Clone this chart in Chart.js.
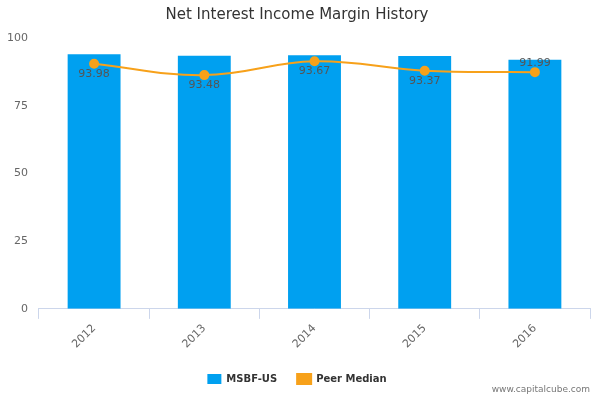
<!DOCTYPE html>
<html>
<head>
<script src="https://cdn.jsdelivr.net/npm/chart.js@4"></script>
<style>
body { margin: 0; background: #fff; }
#wrap { width: 600px; height: 400px; position: relative; }
#credit { position: absolute; right: 10px; bottom: 6px; font: 9px "DejaVu Sans"; color: #777; }
</style>
</head>
<body>
<div id="wrap"><canvas id="myChart" width="600" height="400"></canvas><div id="credit">www.capitalcube.com</div></div>
<script>
const years = ['2012', '2013', '2014', '2015', '2016'];
const companyValues = [93.98, 93.48, 93.67, 93.37, 91.99];
const peerMedian = [90.5, 86.3, 91.4, 87.9, 87.4];
const yTicks = [0, 25, 50, 75, 100];

// value labels on the bars
const barLabels = {
    id: 'barLabels',
    afterDatasetsDraw(chart) {
        const ctx = chart.ctx;
        const meta = chart.getDatasetMeta(0);
        ctx.save();
        ctx.font = '11px "DejaVu Sans"';
        ctx.fillStyle = '#555';
        ctx.textAlign = 'center';
        meta.data.forEach((bar, i) => {
            const v = companyValues[i];
            const y = i === companyValues.length - 1 ? bar.y - 9 : bar.y + 10;
            ctx.fillText(v.toFixed(2), bar.x, y);
        });
        ctx.restore();
    }
};

const ctx = document.getElementById('myChart').getContext('2d');
new Chart(ctx, {
    data: {
        labels: years,
        datasets: [
            {
                type: 'line',
                label: 'Peer Median',
                data: peerMedian,
                borderColor: '#F7A11A',
                backgroundColor: '#F7A11A',
                borderWidth: 2,
                pointRadius: 4,
                tension: 0.4,
                order: 0
            },
            {
                type: 'bar',
                label: 'MSBF-US',
                data: companyValues,
                backgroundColor: '#00A0F0',
                barPercentage: 0.48,
                categoryPercentage: 1,
                order: 1
            }
        ]
    },
    options: {
        responsive: false,
        animation: false,
        layout: { padding: { left: 4, right: 10, bottom: 6 } },
        scales: {
            x: {
                grid: { drawOnChartArea: false, color: '#ccd6eb', tickLength: 10, offset: true },
                border: { color: '#ccd6eb' },
                ticks: { maxRotation: 45, minRotation: 45, color: '#666', font: { size: 11, family: 'DejaVu Sans' } }
            },
            y: {
                min: 0, max: 100,
                afterBuildTicks: axis => { axis.ticks = yTicks.map(v => ({ value: v })); },
                grid: { display: false },
                border: { display: false },
                ticks: { color: '#666', font: { size: 11, family: 'DejaVu Sans' } }
            }
        },
        plugins: {
            title: {
                display: true,
                text: 'Net Interest Income Margin History',
                color: '#333',
                font: { size: 15, family: 'DejaVu Sans', weight: 'normal' },
                padding: { top: 6, bottom: 14 }
            },
            legend: {
                position: 'bottom',
                reverse: true,
                labels: {
                    usePointStyle: false,
                    boxWidth: 14, boxHeight: 10,
                    color: '#333',
                    font: { size: 10, family: 'DejaVu Sans', weight: 'bold' },
                    padding: 20
                }
            },
            tooltip: { enabled: false }
        }
    },
    plugins: [barLabels]
});
</script>
</body>
</html>
